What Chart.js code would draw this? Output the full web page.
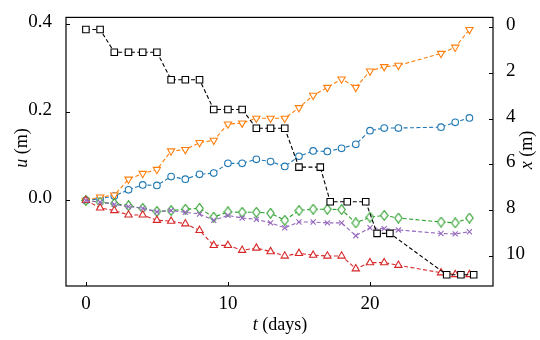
<!DOCTYPE html>
<html>
<head>
<meta charset="utf-8">
<script src="https://cdn.jsdelivr.net/npm/chart.js@4/dist/chart.umd.min.js"></script>
<style>
  html, body { margin: 0; padding: 0; background: #fff; }
  #wrap { width: 540px; height: 340px; }
</style>
</head>
<body>
<div id="wrap"><canvas id="graph" width="540" height="340"></canvas></div>
<script>
// days for the five displacement series
const days = [0,1,2,3,4,5,6,7,8,9,10,11,12,13,14,15,16,17,18,19,20,21,22,25,26,27];
const uBlue   = [0,0.004,0.010,0.024,0.035,0.034,0.054,0.048,0.059,0.062,0.084,0.084,0.093,0.088,0.077,0.100,0.112,0.111,0.118,0.127,0.158,0.164,0.164,0.166,0.177,0.187];
const uOrange = [0,0.0075,0.012,0.048,0.061,0.070,0.112,0.115,0.131,0.136,0.173,0.175,0.186,0.186,0.186,0.210,0.238,0.256,0.275,0.256,0.293,0.303,0.306,0.333,0.347,0.387];
const uGreen  = [0,-0.004,-0.007,-0.012,-0.018,-0.025,-0.023,-0.020,-0.018,-0.038,-0.026,-0.027,-0.027,-0.029,-0.045,-0.023,-0.020,-0.020,-0.021,-0.051,-0.038,-0.034,-0.040,-0.049,-0.051,-0.040];
const uPurple = [0,-0.004,-0.009,-0.014,-0.018,-0.026,-0.023,-0.027,-0.031,-0.045,-0.034,-0.040,-0.043,-0.051,-0.062,-0.049,-0.049,-0.051,-0.051,-0.080,-0.062,-0.064,-0.067,-0.075,-0.076,-0.071];
const uRed    = [0,-0.017,-0.023,-0.033,-0.033,-0.045,-0.047,-0.053,-0.068,-0.102,-0.102,-0.113,-0.108,-0.116,-0.126,-0.120,-0.124,-0.126,-0.126,-0.155,-0.141,-0.141,-0.147,-0.164,-0.168,-0.168];

// black step series on the right axis
const stepDays = [0,1,2,3,4,5,6,7,8,9,10,11,12,13,14,15,16.5,17.2,18.4,19.7,20.5,21.4,25.4,26.4,27.3];
const xFront   = [0.11,0.11,1.1,1.1,1.1,1.1,2.3,2.3,2.3,3.6,3.6,3.6,4.42,4.42,4.42,6.12,6.12,7.63,7.63,7.63,9.01,9.01,10.82,10.82,10.82];

const tTicks = [0,10,20];
const uTicks = [0,0.2,0.4];
const xTicks = [0,2,4,6,8,10];

const serif = '"Liberation Serif", "DejaVu Serif", serif';

function pts(xs, ys){ return xs.map((t,i)=>({x:t, y:ys[i]})); }

// thin matplotlib style diamond
function thinDiamond(color){
    const c = document.createElement('canvas');
    c.width = 9; c.height = 11;
    const g = c.getContext('2d');
    g.beginPath();
    g.moveTo(4.5,0.7); g.lineTo(8.2,5.5); g.lineTo(4.5,10.3); g.lineTo(0.8,5.5); g.closePath();
    g.fillStyle = '#fff'; g.fill();
    g.strokeStyle = color; g.lineWidth = 1.1; g.stroke();
    return c;
}

function series(data, color, style, radius, axis, rot){
    return {
        data: data,
        yAxisID: axis || 'y',
        borderColor: color,
        borderWidth: 1.1,
        borderDash: [4,2.4],
        pointStyle: style,
        pointRadius: radius,
        pointRotation: rot || 0,
        pointBorderColor: color,
        pointBackgroundColor: '#fff',
        pointBorderWidth: 1.1,
        fill: false,
        tension: 0
    };
}

const frame = {
    id: 'frame',
    afterDraw(chart){
        const ctx = chart.ctx, a = chart.chartArea, s = chart.scales;
        ctx.save();
        ctx.strokeStyle = '#000';
        ctx.lineWidth = 1.2;
        ctx.strokeRect(a.left, a.top, a.right - a.left, a.bottom - a.top);
        // ticks all point inward
        ctx.lineWidth = 1;
        tTicks.forEach(v=>{
            const px = Math.round(s.x.getPixelForValue(v)) + 0.5;
            ctx.beginPath(); ctx.moveTo(px, a.bottom); ctx.lineTo(px, a.bottom - 4); ctx.stroke();
        });
        uTicks.forEach(v=>{
            const py = Math.round(s.y.getPixelForValue(v)) + 0.5;
            ctx.beginPath(); ctx.moveTo(a.left, py); ctx.lineTo(a.left + 4, py); ctx.stroke();
        });
        xTicks.forEach(v=>{
            const py = Math.round(s.y2.getPixelForValue(v)) + 0.5;
            ctx.beginPath(); ctx.moveTo(a.right, py); ctx.lineTo(a.right - 4, py); ctx.stroke();
        });
        ctx.fillStyle = '#000';
        ctx.textBaseline = 'middle';
        function mixed(parts, cx, cy, rot){
            ctx.save();
            ctx.translate(cx, cy);
            ctx.rotate(rot);
            let w = 0;
            parts.forEach(p=>{ ctx.font = p[1] + ' 18px ' + serif; w += ctx.measureText(p[0]).width; });
            let x = -w/2;
            ctx.textAlign = 'left';
            parts.forEach(p=>{ ctx.font = p[1] + ' 18px ' + serif; ctx.fillText(p[0], x, 0); x += ctx.measureText(p[0]).width; });
            ctx.restore();
        }
        mixed([['u','italic'],[' (m)','normal']], 22, 148, -Math.PI/2);
        mixed([['x','italic'],[' (m)','normal']], 527, 150, -Math.PI/2);
        mixed([['t','italic'],[' (days)','normal']], 280, 325, 0);
        ctx.restore();
    }
};

const graph = document.getElementById('graph');

let chart = new Chart(graph, {
    type: 'line',
    data: {
        datasets: [
            series(pts(stepDays, xFront), '#000000', 'rect', 4.6, 'y2'),
            series(pts(days, uPurple), '#9467bd', 'crossRot', 3.6),
            series(pts(days, uRed), '#d62728', 'triangle', 4.2),
            series(pts(days, uGreen), '#2ca02c', thinDiamond('#2ca02c'), 4),
            series(pts(days, uOrange), '#ff7f0e', 'triangle', 4.2, 'y', 180),
            series(pts(days, uBlue), '#1f77b4', 'circle', 3.3)
        ]
    },
    options: {
        responsive: false,
        animation: false,
        devicePixelRatio: 1,
        layout: { padding: { top: 9, left: 0, right: 0, bottom: 0 } },
        plugins: { legend: { display: false }, tooltip: { enabled: false } },
        scales: {
            x: {
                type: 'linear',
                min: -1.4,
                max: 28.66,
                afterBuildTicks: s => { s.ticks = tTicks.map(v=>({value:v})); },
                afterFit: s => { s.height = 54; },
                grid: { display: false },
                border: { display: false },
                ticks: { color: '#000', font: { family: serif, size: 19 }, padding: -1, maxRotation: 0 }
            },
            y: {
                position: 'left',
                min: -0.194,
                max: 0.4147,
                afterBuildTicks: s => { s.ticks = uTicks.map(v=>({value:v})); },
                afterFit: s => { s.width = 66; },
                grid: { display: false },
                border: { display: false },
                ticks: { color: '#000', font: { family: serif, size: 19 }, padding: 6, labelOffset: -2, callback: v => v.toFixed(1) }
            },
            y2: {
                position: 'right',
                reverse: true,
                min: -0.42,
                max: 11.31,
                afterBuildTicks: s => { s.ticks = xTicks.map(v=>({value:v})); },
                afterFit: s => { s.width = 47; },
                grid: { display: false },
                border: { display: false },
                ticks: { color: '#000', font: { family: serif, size: 19 }, padding: 5, labelOffset: -2 }
            }
        }
    },
    plugins: [frame]
});
</script>
</body>
</html>
